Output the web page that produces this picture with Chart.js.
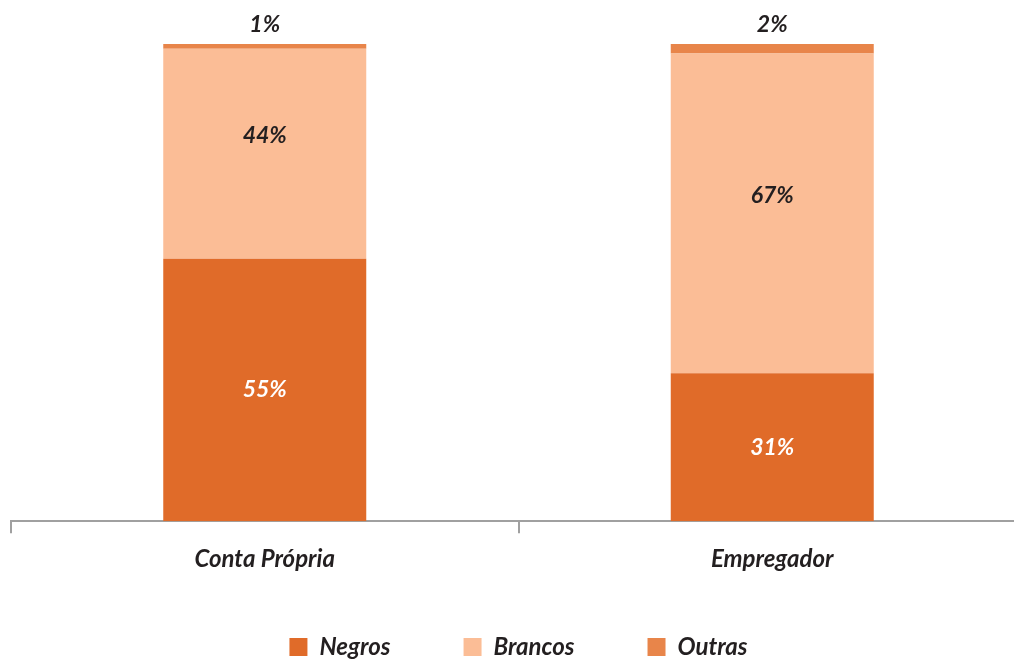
<!DOCTYPE html>
<html>
<head>
<meta charset="utf-8">
<script src="https://cdn.jsdelivr.net/npm/chart.js@4"></script>
<style>
  html, body { margin: 0; padding: 0; overflow: hidden; background: #fff; }
  #wrap { width: 1028px; height: 659px; }
</style>
</head>
<body>
<div id="wrap"><canvas id="chart_ocupacao"></canvas></div>
<script>
// categorias e séries (% por cor/raça)
var categorias = ['Conta Própria', 'Empregador'];
var negros = [55, 31];
var brancos = [44, 67];
var outras = [1, 2];

var fonte = 'Lato, "Open Sans", sans-serif';
var corTexto = '#231f20';
var recuoLegenda = 24;

var chart_ocupacao = new Chart(document.getElementById('chart_ocupacao'), {
    type: 'bar',
    data: {
        labels: categorias,
        datasets: [
            { label: 'Negros', data: negros, backgroundColor: '#e06b29' },
            { label: 'Brancos', data: brancos, backgroundColor: '#fbbd96' },
            { label: 'Outras', data: outras, backgroundColor: '#e8854a' }
        ]
    },
    options: {
        animation: false,
        responsive: true,
        maintainAspectRatio: false,
        barPercentage: 0.4,
        categoryPercentage: 1,
        layout: { padding: { top: 44, left: 11, right: 2, bottom: -10 } },
        plugins: {
            title: { display: false },
            tooltip: { enabled: false },
            legend: {
                position: 'bottom',
                labels: {
                    boxWidth: 18,
                    boxHeight: 18,
                    padding: 73,
                    color: corTexto,
                    font: { family: fonte, size: 24, style: 'italic', weight: 'bold' }
                }
            }
        },
        scales: {
            x: {
                stacked: true,
                grid: {
                    offset: true,
                    drawOnChartArea: false,
                    drawTicks: true,
                    tickLength: 12,
                    color: '#a0a0a0',
                    lineWidth: 2
                },
                border: { display: true, color: '#a0a0a0', width: 2 },
                ticks: {
                    padding: 12,
                    color: corTexto,
                    font: { family: fonte, size: 24, style: 'italic', weight: 'bold' }
                }
            },
            y: {
                stacked: true,
                min: 0,
                max: 100,
                display: false
            }
        }
    },
    plugins: [{
        // legenda mais baixa sem mudar o espaçamento entre itens
        id: 'legendaCompacta',
        beforeInit: (chart) => {
            const leg = chart.legend;
            if (!leg) return;
            const fit0 = leg.fit;
            leg.fit = function() {
                fit0.call(this);
                this.height -= recuoLegenda;
            };
            const draw0 = leg.draw;
            leg.draw = function() {
                const t = this.top;
                this.top = t - recuoLegenda;
                draw0.call(this);
                this.top = t;
            };
        }
    }, {
        id: 'rotulosValores',
        afterDatasetsDraw: (chart) => {
            const ctx = chart.ctx;
            ctx.save();
            ctx.font = 'italic bold 23px ' + fonte;
            ctx.textAlign = 'center';
            ctx.textBaseline = 'middle';
            chart.data.datasets.forEach((ds, i) => {
                chart.getDatasetMeta(i).data.forEach((bar, j) => {
                    const txt = ds.data[j] + '%';
                    if (i === 2) {
                        ctx.fillStyle = corTexto;
                        ctx.fillText(txt, bar.x, bar.y - 19);
                    } else if (i === 1) {
                        ctx.fillStyle = corTexto;
                        ctx.fillText(txt, bar.x, (bar.y + bar.base) / 2 - 18);
                    } else {
                        ctx.fillStyle = '#ffffff';
                        ctx.fillText(txt, bar.x, (bar.y + bar.base) / 2);
                    }
                });
            });
            ctx.restore();
        }
    }, {
        id: 'fundoBranco',
        beforeDraw: (chart) => {
            const ctx = chart.canvas.getContext('2d');
            ctx.save();
            ctx.globalCompositeOperation = 'destination-over';
            ctx.fillStyle = 'white';
            ctx.fillRect(0, 0, chart.canvas.width, chart.canvas.height);
            ctx.restore();
        }
    }]
});
</script>
</body>
</html>
